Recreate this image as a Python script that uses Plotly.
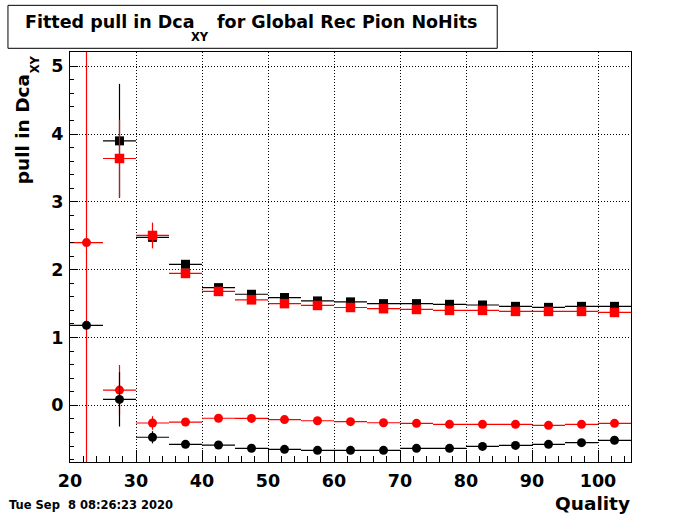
import plotly.graph_objects as go

# ---- data ----
quality = [22.5, 27.5, 32.5, 37.5, 42.5, 47.5, 52.5, 57.5, 62.5, 67.5,
           72.5, 77.5, 82.5, 87.5, 92.5, 97.5, 102.5]
bin_half_width = [2.5] * len(quality)

black_sq = [None, 3.90, 2.477, 2.08, 1.736, 1.638, 1.59, 1.54, 1.526, 1.50,
            1.50, 1.49, 1.48, 1.46, 1.445, 1.46, 1.46]
black_sq_err = [0, 0.84, 0.03, 0.05, 0.02, 0.02, 0.01, 0.01, 0.01, 0.01,
                0.01, 0.01, 0.01, 0.01, 0.01, 0.01, 0.01]

red_sq = [None, 3.64, 2.505, 1.945, 1.68, 1.556, 1.50, 1.473, 1.443, 1.425,
          1.414, 1.40, 1.40, 1.385, 1.385, 1.385, 1.37]
red_sq_err = [0, 0.57, 0.19, 0.03, 0.02, 0.02, 0.01, 0.01, 0.01, 0.01,
              0.01, 0.01, 0.01, 0.01, 0.01, 0.01, 0.01]

red_circ = [2.40, 0.225, -0.26, -0.246, -0.19, -0.192, -0.21, -0.227, -0.24,
            -0.256, -0.265, -0.28, -0.28, -0.28, -0.295, -0.28, -0.265]
red_circ_err = [10.0, 0.37, 0.10, 0.02, 0.02, 0.02, 0.01, 0.01, 0.01, 0.01,
                0.01, 0.01, 0.01, 0.01, 0.01, 0.01, 0.01]

black_circ = [1.18, 0.088, -0.47, -0.575, -0.585, -0.633, -0.648, -0.663,
              -0.663, -0.663, -0.634, -0.634, -0.605, -0.59, -0.575, -0.55,
              -0.515]
black_circ_err = [0.02, 0.40, 0.09, 0.02, 0.02, 0.02, 0.01, 0.01, 0.01, 0.01,
                  0.01, 0.01, 0.01, 0.01, 0.01, 0.01, 0.01]

x_ticks = [20, 30, 40, 50, 60, 70, 80, 90, 100]
y_ticks = [0, 1, 2, 3, 4, 5]

title_main = "Fitted pull in Dca"
title_sub = "XY"
title_rest = "for Global Rec Pion NoHits"
ytitle_main = "pull in Dca"
ytitle_sub = "XY"
xtitle_text = "Quality"
date_text = "Tue Sep \u00a08 08:26:23 2020"

# ---- layout geometry (pixels) ----
W, H = 700, 514
L, R, T, B = 70, 630.7, 51.7, 462.0
FONT = "DejaVu Sans"


def px(xp):
    return (xp - L) / (R - L)


def py(yp):
    return (B - yp) / (B - T)


fig = go.Figure()


def add_series(y, err, color, symbol, size):
    fig.add_trace(go.Scatter(
        x=quality, y=y, mode="markers",
        marker=dict(symbol=symbol, size=size, color=color, line=dict(width=0)),
        error_x=dict(type="data", array=bin_half_width, color=color,
                     thickness=1.2, width=0),
        error_y=dict(type="data", array=err, color=color,
                     thickness=1.2, width=0),
        cliponaxis=True, showlegend=False,
    ))


add_series(black_sq, black_sq_err, "#000000", "square", 9)
add_series(red_sq, red_sq_err, "#ff0000", "square", 9.5)
add_series(red_circ, red_circ_err, "#ff0000", "circle", 9)
add_series(black_circ, black_circ_err, "#000000", "circle", 9)

axis_common = dict(
    showline=True, linecolor="black", linewidth=1, mirror=True,
    showgrid=True, gridcolor="black", gridwidth=1, griddash="1px,2px",
    zeroline=False, ticks="inside", tickcolor="black", tickwidth=1,
    tickfont=dict(family=FONT, size=17.5, color="black", weight="bold"),
)

tfont = dict(family=FONT, size=17.5, color="black", weight="bold")
afont = dict(family=FONT, size=18.5, color="black", weight="bold")
sfont = dict(family=FONT, size=11.5, color="black", weight="bold")

fig.update_layout(
    width=W, height=H,
    paper_bgcolor="white", plot_bgcolor="white",
    margin=dict(l=L, r=W - R, t=T, b=H - B, autoexpand=False),
    xaxis=dict(range=[20, 105], tickmode="array", tickvals=x_ticks,
               ticklen=12, ticklabelstandoff=3,
               minor=dict(dtick=2, tick0=20, ticklen=6, ticks="inside",
                          tickcolor="black", tickwidth=1, showgrid=False),
               **axis_common),
    yaxis=dict(range=[-0.835, 5.21], tickmode="array", tickvals=y_ticks,
               ticklen=8, ticklabelstandoff=2,
               minor=dict(dtick=0.2, tick0=0, ticklen=4, ticks="inside",
                          tickcolor="black", tickwidth=1, showgrid=False),
               **axis_common),
    shapes=[dict(type="rect", xref="paper", yref="paper",
                 x0=px(8), x1=px(497), y0=py(48), y1=py(5),
                 line=dict(color="black", width=1), fillcolor="white")],
    annotations=[
        dict(text=title_main, xref="paper", yref="paper", x=px(197), y=py(22),
             xanchor="right", yanchor="middle", showarrow=False, font=tfont),
        dict(text=title_sub, xref="paper", yref="paper", x=px(200), y=py(37),
             xanchor="center", yanchor="middle", showarrow=False, font=sfont),
        dict(text=title_rest, xref="paper", yref="paper", x=px(215), y=py(22),
             xanchor="left", yanchor="middle", showarrow=False, font=tfont),
        dict(text=ytitle_main, xref="paper", yref="paper", x=px(22), y=py(72),
             xanchor="center", yanchor="top", showarrow=False, textangle=-90,
             font=afont),
        dict(text=ytitle_sub, xref="paper", yref="paper", x=px(35), y=py(53),
             xanchor="center", yanchor="top", showarrow=False, textangle=-90,
             font=sfont),
        dict(text=xtitle_text, xref="paper", yref="paper", x=px(632), y=py(504),
             xanchor="right", yanchor="middle", showarrow=False, font=afont),
        dict(text=date_text, xref="paper", yref="paper", x=px(7), y=py(505),
             xanchor="left", yanchor="middle", showarrow=False,
             font=dict(family=FONT, size=11.5, color="black", weight="bold")),
    ],
)

fig.write_html("out.html", config={"displayModeBar": False},
               post_script="document.body.style.margin='0px';"
                           "document.body.style.padding='0px';")
